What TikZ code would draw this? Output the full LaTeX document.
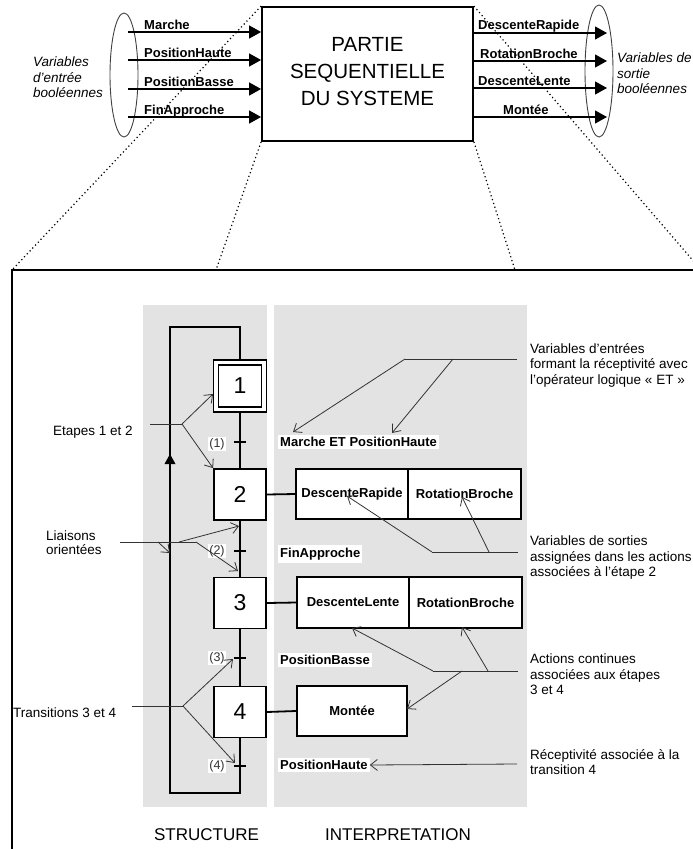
\documentclass[tikz,border=0pt]{standalone}
\usepackage{fontspec}
\setmainfont{Liberation Sans}
\usetikzlibrary{arrows.meta,shapes.geometric,calc}
\definecolor{panel}{RGB}{227,227,227}
\begin{document}
\begin{tikzpicture}[x=1pt,y=-1pt,
  box/.style={draw, line width=1.8pt, fill=white, inner sep=0pt},
  stepbox/.style={box, minimum width=52, minimum height=51, font=\fontsize{23}{26}\selectfont},
  actbox/.style={box, minimum height=50, font=\bfseries\fontsize{13}{15}\selectfont},
  link/.style={line width=1.8pt},
  blab/.style={font=\bfseries\fontsize{13}{15}\selectfont, inner sep=0pt, anchor=base west},
  rtxt/.style={font=\fontsize{13.5}{15.5}\selectfont, inner sep=0pt, anchor=base west},
  itxt/.style={font=\itshape\fontsize{13.5}{15.5}\selectfont, inner sep=0pt, anchor=base west},
  bigtxt/.style={font=\fontsize{20.5}{24}\selectfont, inner sep=0pt, anchor=base},
  captxt/.style={font=\fontsize{17}{20}\selectfont, inner sep=0pt, anchor=base},
  rec/.style={fill=white, font=\bfseries\fontsize{13}{15}\selectfont, inner xsep=2pt, inner ysep=2.5pt, anchor=west},
  tnum/.style={fill=white, font=\fontsize{12.5}{14}\selectfont, inner sep=1.5pt, text=black!80},
  iarrow/.style={line width=1.1pt, -{Triangle[length=12pt,width=13pt]}},
  ann/.style={line width=0.8pt, draw=black!80},
  annarr/.style={ann, -{Straight Barb[length=7pt,width=11pt]}},
  dots/.style={line width=1.2pt, dash pattern=on 1.2pt off 2.8pt},
  ell/.style={draw=black!75, line width=0.9pt, ellipse, inner sep=0pt, minimum width=28}
]
\useasboundingbox (0,0) rectangle (693,849);

% ---------- top block ----------
\node[draw, line width=1.8pt, minimum width=211, minimum height=134, inner sep=0pt] (psys) at (367.5,74) {};
\node[bigtxt] (pt1) at (367.5,51.5) {PARTIE};
\node[bigtxt] (pt2) at (367.5,78.5) {SEQUENTIELLE};
\node[bigtxt] (pt3) at (367.5,105.5) {DU SYSTEME};

\node[ell, minimum height=124] (ein) at (124,75) {};
\node[ell, minimum height=132] (eout) at (599,71) {};

\coordinate (i1) at (128,32);
\coordinate (i2) at (128,60);
\coordinate (i3) at (128,89);
\coordinate (i4) at (128,117);
\draw[iarrow] (i1) -- (i1 -| psys.west);
\draw[iarrow] (i2) -- (i2 -| psys.west);
\draw[iarrow] (i3) -- (i3 -| psys.west);
\draw[iarrow] (i4) -- (i4 -| psys.west);
\node[blab] (li1) at (144,29) {Marche};
\node[blab] (li2) at (144,57) {PositionHaute};
\node[blab] (li3) at (144,86) {PositionBasse};
\node[blab] (li4) at (144,114) {FinApproche};

\coordinate (o1) at (607,33);
\coordinate (o2) at (607,61);
\coordinate (o3) at (607,88);
\coordinate (o4) at (607,117);
\draw[iarrow] (o1 -| psys.east) -- (o1);
\draw[iarrow] (o2 -| psys.east) -- (o2);
\draw[iarrow] (o3 -| psys.east) -- (o3);
\draw[iarrow] (o4 -| psys.east) -- (o4);
\node[blab] (lo1) at (478,29.5) {DescenteRapide};
\node[blab] (lo2) at (480,58) {RotationBroche};
\node[blab] (lo3) at (478,85) {DescenteLente};
\node[blab] (lo4) at (503,114.5) {Montée};

\node[itxt] (vi1) at (33,66.5) {Variables};
\node[itxt] (vi2) at (33,82) {d’entrée};
\node[itxt] (vi3) at (33,97.5) {booléennes};
\node[itxt] (vo1) at (617,62.5) {Variables de};
\node[itxt] (vo2) at (617,78) {sortie};
\node[itxt] (vo3) at (617,93.5) {booléennes};

% ---------- zoom lines and frame ----------
\coordinate (fTL) at (12,270);
\coordinate (fT1) at (216,270);
\coordinate (fT2) at (515,270);
\coordinate (fTR) at (704,270);
\coordinate (fBL) at (12,860);
\draw[dots] (psys.north west) -- (fTL);
\draw[dots] (psys.south west) -- (fT1);
\draw[dots] (psys.south east) -- (fT2);
\draw[dots] (psys.north east) -- (702,271);
\draw[line width=1.8pt] (fBL) -- (fTL) -- (fTR);

% ---------- panels ----------
\fill[panel] (143,305) rectangle (267,807);
\fill[panel] (274,305) rectangle (527,807);

% ---------- grafcet ----------
\node[stepbox, minimum width=53, minimum height=52] (s1) at (240,386) {};
\node[draw, line width=1.2pt, minimum width=43, minimum height=42, inner sep=0pt, font=\fontsize{23}{26}\selectfont] (s1i) at (s1) {1};
\node[stepbox] (s2) at (240,494.5) {2};
\node[stepbox] (s3) at (240,603) {3};
\node[stepbox] (s4) at (240,712) {4};

\draw[link] (s1.south) -- (s2.north);
\draw[link] (s2.south) -- (s3.north);
\draw[link] (s3.south) -- (s4.north);
\coordinate (lb) at (170,793);
\coordinate (lt) at (170,327);
\draw[link] (s4.south) |- (lb) -- (lt) -| (s1.north);
\coordinate (up1) at (170,454);
\fill (up1) -- ++(-5.5,10) -- ++(11,0) -- cycle;

\coordinate (t1) at (240,442);
\coordinate (t2) at (240,551);
\coordinate (t3) at (240,658);
\coordinate (t4) at (240,766);
\foreach \t in {t1,t2,t3,t4} \draw[link] ([xshift=-6pt]\t) -- ([xshift=6pt]\t);

\node[tnum] (n1) at (217,444) {(1)};
\node[tnum] (n2) at (217,551) {(2)};
\node[tnum] (n3) at (217,658) {(3)};
\node[tnum] (n4) at (217,766) {(4)};

% ---------- actions ----------
\node[actbox, minimum width=112] (a2l) at (352,494) {DescenteRapide};
\node[actbox, minimum width=113] (a2r) at (464.5,494) {RotationBroche};
\node[actbox, minimum width=112, minimum height=51] (a3l) at (353,602.5) {DescenteLente};
\node[actbox, minimum width=113, minimum height=51] (a3r) at (465.5,602.5) {RotationBroche};
\node[actbox, minimum width=110] (a4) at (352,711) {Montée};
\draw[link] (s2.east) -- (a2l.west);
\draw[link] (s3.east) -- (a3l.west);
\draw[link] (s4.east) -- (a4.west);

% ---------- receptivities ----------
\node[rec] (r1) at (278,442) {Marche ET PositionHaute\hspace{6pt}};
\node[rec] (r2) at (278,554) {FinApproche\hspace{4pt}};
\node[rec] (r3) at (278,660) {PositionBasse\hspace{8pt}};
\node[rec] (r4) at (278,765) {PositionHaute};

% ---------- annotation texts ----------
\node[rtxt] (x11) at (530,353) {Variables d’entrées};
\node[rtxt] (x12) at (530,368.5) {formant la réceptivité avec};
\node[rtxt] (x13) at (530,384) {l’opérateur logique « ET »};
\node[rtxt] (x21) at (530,545) {Variables de sorties};
\node[rtxt] (x22) at (530,561) {assignées dans les actions};
\node[rtxt] (x23) at (530,576.5) {associées à l’étape 2};
\node[rtxt] (x31) at (530,663.5) {Actions continues};
\node[rtxt] (x32) at (530,679) {associées aux étapes};
\node[rtxt] (x33) at (530,694.5) {3 et 4};
\node[rtxt] (x41) at (530,759) {Réceptivité associée à la};
\node[rtxt] (x42) at (530,774.5) {transition 4};

\node[rtxt] (y1) at (53,435) {Etapes 1 et 2};
\node[rtxt] (y21) at (46,540) {Liaisons};
\node[rtxt] (y22) at (46,554.5) {orientées};
\node[rtxt] (y3) at (13,717.5) {Transitions 3 et 4};

\node[captxt] (cs) at (206.5,840) {STRUCTURE};
\node[captxt] (ci) at (398,840) {INTERPRETATION};

% ---------- leader lines ----------
\coordinate (k1a) at (517,359);
\coordinate (k1b) at (453,359);
\coordinate (k1c) at (405,359);
\coordinate (k1m) at (293,432);
\coordinate (k1p) at (392,433);
\draw[ann] (k1a) -- (k1c);
\draw[annarr] (k1c) -- (k1m);
\draw[annarr] (k1b) -- (k1p);

\coordinate (e0) at (150,424);
\coordinate (e1) at (182,424);
\coordinate (es1) at (213,394);
\draw[ann] (e0) -- (e1);
\draw[annarr] (e1) -- (es1);
\draw[annarr] (e1) -- (s2.north west);

\coordinate (g0) at (120,542);
\coordinate (g1) at (158,542);
\coordinate (g2) at (179,542);
\coordinate (g3) at (196,542);
\coordinate (gl) at (170,553);
\coordinate (gu) at (239,526);
\coordinate (gd) at (238,571);
\draw[ann] (g0) -- (g3);
\draw[annarr] (g1) -- (gl);
\draw[annarr] (g2) -- (gu);
\draw[annarr] (g3) -- (gd);

\coordinate (h0) at (132,706);
\coordinate (h1) at (183,706);
\coordinate (hu) at (233,659);
\coordinate (hd) at (235,763);
\draw[ann] (h0) -- (h1);
\draw[annarr] (h1) -- (hu);
\draw[annarr] (h1) -- (hd);

\coordinate (m0) at (518,552);
\coordinate (m1) at (489,552);
\coordinate (m2) at (432,552);
\coordinate (mr) at (347,496);
\coordinate (mb) at (462,497);
\draw[ann] (m0) -- (m2);
\draw[annarr] (m2) -- (mr);
\draw[annarr] (m1) -- (mb);

\coordinate (c0) at (518,671);
\coordinate (c1) at (488,671);
\coordinate (c2) at (462,671);
\coordinate (c3) at (433,671);
\coordinate (cl) at (352,628);
\coordinate (cb) at (462,627);
\coordinate (cm) at (407,709);
\draw[ann] (c0) -- (c3);
\draw[annarr] (c3) -- (cl);
\draw[annarr] (c1) -- (cb);
\draw[annarr] (c2) -- (cm);

\coordinate (p0) at (517,764);
\draw[annarr] (p0) -- (r4.east);
\end{tikzpicture}
\end{document}
